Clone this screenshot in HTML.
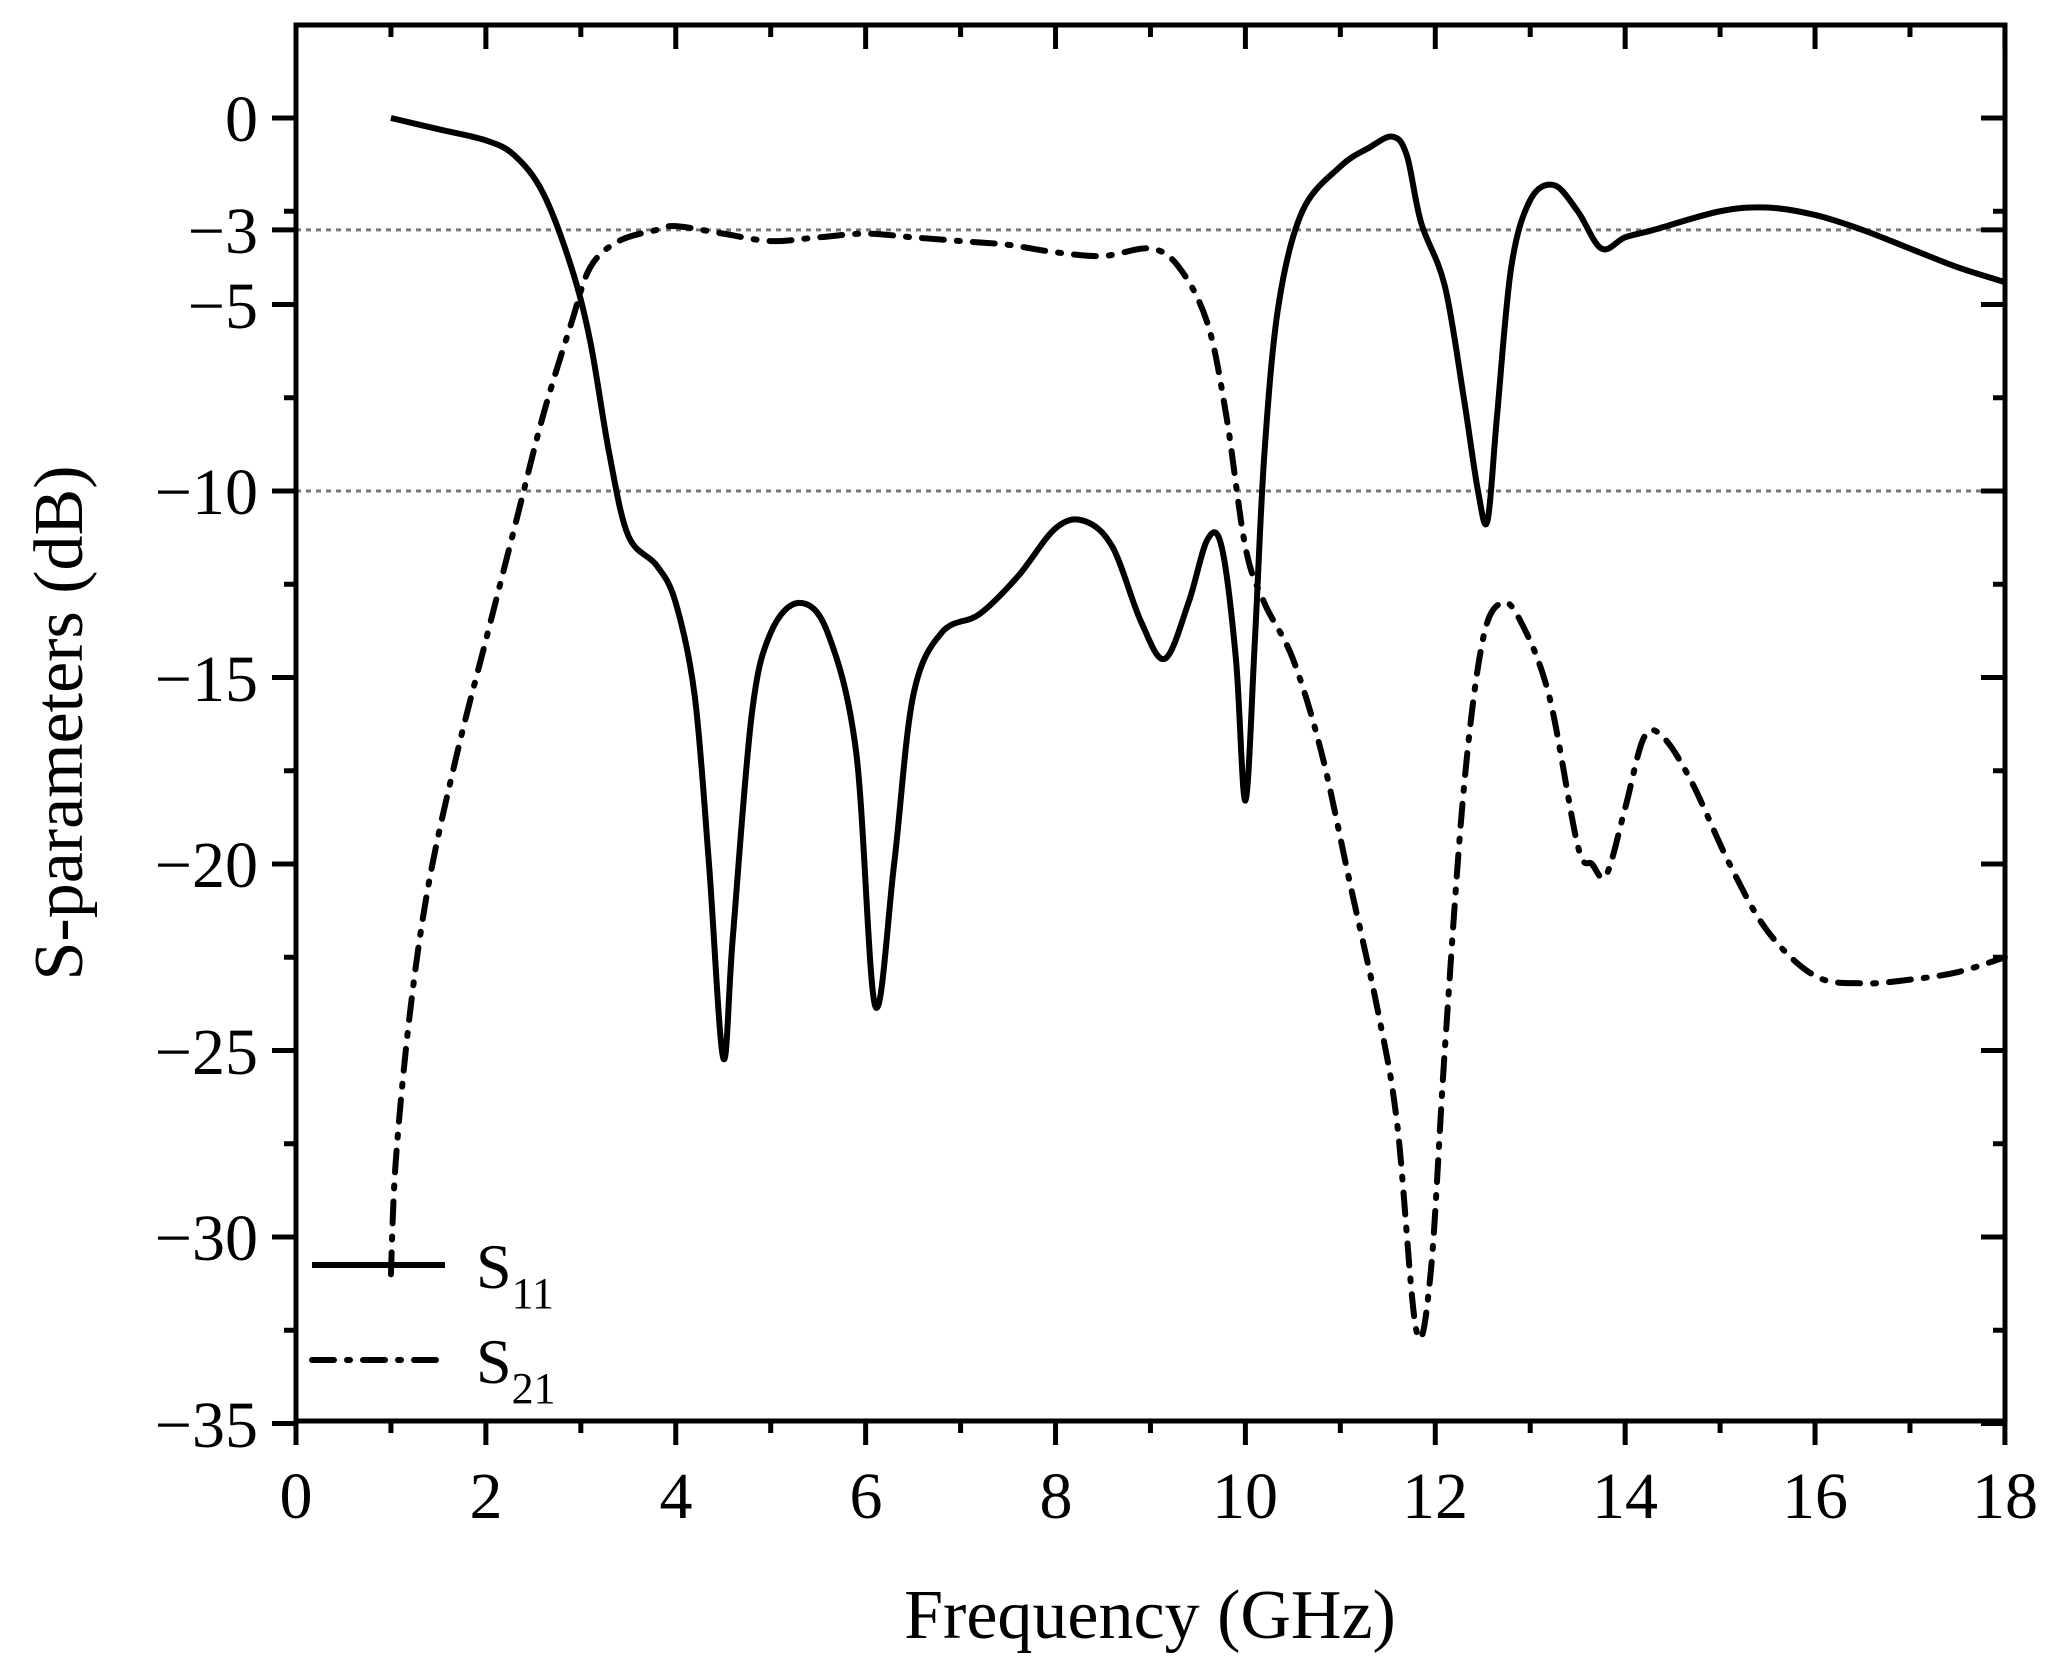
<!DOCTYPE html>
<html><head><meta charset="utf-8"><style>html,body{margin:0;padding:0;background:#fff}svg{display:block}text{font-family:"Liberation Serif",serif;fill:#000}</style></head>
<body>
<svg id="s" width="2051" height="1677" viewBox="0 0 2051 1677" xmlns="http://www.w3.org/2000/svg">
<g id="grid"></g>
<g id="curves"></g>
<rect x="296" y="25" width="1709" height="1396" fill="none" stroke="#000" stroke-width="5"/>
<g id="ticks" stroke="#000" stroke-width="5"></g>
<g font-size="66" text-anchor="end">
<text x="258" y="141">0</text>
<text x="258" y="253">−3</text>
<text x="258" y="328">−5</text>
<text x="258" y="514">−10</text>
<text x="258" y="701">−15</text>
<text x="258" y="887">−20</text>
<text x="258" y="1074">−25</text>
<text x="258" y="1260">−30</text>
<text x="258" y="1447">−35</text>
</g>
<g font-size="66" text-anchor="middle">
<text x="296" y="1518">0</text>
<text x="486" y="1518">2</text>
<text x="676" y="1518">4</text>
<text x="866" y="1518">6</text>
<text x="1056" y="1518">8</text>
<text x="1245" y="1518">10</text>
<text x="1435" y="1518">12</text>
<text x="1625" y="1518">14</text>
<text x="1815" y="1518">16</text>
<text x="2005" y="1518">18</text>
</g>
<text x="1150" y="1638" font-size="70" text-anchor="middle">Frequency (GHz)</text>
<text transform="translate(82,723) rotate(-90)" font-size="70" text-anchor="middle">S-parameters (dB)</text>
<line x1="312" y1="1265" x2="445" y2="1265" stroke="#000" stroke-width="6"/>
<line x1="312" y1="1360" x2="445" y2="1360" stroke="#000" stroke-width="6" stroke-dasharray="22,13,3,13" stroke-linecap="round"/>
<text x="476" y="1288" font-size="64">S<tspan font-size="44" dy="20">11</tspan></text>
<text x="476" y="1383" font-size="64">S<tspan font-size="44" dy="20">21</tspan></text>
</svg>
<script>
var X=function(f){return 296+f*94.94},Y=function(d){return 118-d*37.3};
var NS="http://www.w3.org/2000/svg";
function el(p,n,a){var e=document.createElementNS(NS,n);for(var k in a)e.setAttribute(k,a[k]);p.appendChild(e);return e;}
var g=document.getElementById('grid');
[-3,-10].forEach(function(d){el(g,'line',{x1:296,x2:2005,y1:Y(d),y2:Y(d),stroke:'#777','stroke-width':3,'stroke-dasharray':'5,5'});});
var t=document.getElementById('ticks');
for(var i=0;i<=18;i++){var x=X(i),L=i%2==0?24:12;
 el(t,'line',{x1:x,x2:x,y1:1421,y2:1421+L});el(t,'line',{x1:x,x2:x,y1:25,y2:25+L});}
[0,-3,-5,-10,-15,-20,-25,-30,-35].forEach(function(d){var y=Y(d);el(t,'line',{x1:296-24,x2:296,y1:y,y2:y});el(t,'line',{x1:2005-24,x2:2005,y1:y,y2:y});});
[-2.5,-7.5,-12.5,-17.5,-22.5,-27.5,-32.5].forEach(function(d){var y=Y(d);el(t,'line',{x1:296-12,x2:296,y1:y,y2:y});el(t,'line',{x1:2005-12,x2:2005,y1:y,y2:y});});
function path(pts){var p=pts.map(function(a){return [X(a[0]),Y(a[1])]});var s='M'+p[0][0]+','+p[0][1];
for(var i=0;i<p.length-1;i++){var p0=p[i-1]||p[i],p1=p[i],p2=p[i+1],p3=p[i+2]||p2;
s+='C'+(p1[0]+(p2[0]-p0[0])/6)+','+(p1[1]+(p2[1]-p0[1])/6)+' '+(p2[0]-(p3[0]-p1[0])/6)+','+(p2[1]-(p3[1]-p1[1])/6)+' '+p2[0]+','+p2[1];}return s;}
var s11=[[1,0],[1.5,-0.3],[2,-0.6],[2.3,-1],[2.6,-2],[2.9,-4],[3.1,-6],[3.3,-9],[3.5,-11.2],[3.8,-12],[4.0,-13],[4.2,-15.5],[4.35,-20],[4.5,-25.2],[4.6,-22],[4.8,-16],[5.0,-13.8],[5.3,-13],[5.6,-13.8],[5.9,-17],[6.1,-23.8],[6.3,-20],[6.5,-15.5],[6.8,-13.8],[7.2,-13.3],[7.6,-12.3],[8.0,-11],[8.3,-10.8],[8.6,-11.5],[8.9,-13.5],[9.15,-14.5],[9.4,-13],[9.6,-11.3],[9.75,-11.5],[9.9,-14.5],[10.0,-18.3],[10.1,-14],[10.2,-9],[10.35,-5],[10.6,-2.5],[11,-1.3],[11.3,-0.8],[11.55,-0.5],[11.7,-1],[11.85,-2.8],[12.1,-4.5],[12.3,-7.5],[12.45,-10],[12.55,-10.8],[12.65,-8],[12.8,-4],[13.0,-2.2],[13.25,-1.8],[13.5,-2.5],[13.75,-3.5],[14.0,-3.2],[14.3,-3],[15,-2.5],[15.5,-2.4],[16,-2.6],[16.5,-3],[17,-3.5],[17.5,-4],[18,-4.4]];
var s21=[[1,-31],[1.05,-28],[1.2,-24],[1.4,-20.5],[1.7,-17],[2.0,-14],[2.3,-11],[2.6,-8],[2.9,-5.5],[3.1,-4],[3.4,-3.3],[3.8,-3],[4.0,-2.9],[4.5,-3.1],[5,-3.3],[5.5,-3.2],[6,-3.1],[6.5,-3.2],[7,-3.3],[7.5,-3.4],[8,-3.6],[8.5,-3.7],[9,-3.5],[9.3,-4],[9.6,-5.5],[9.8,-8],[10,-11.5],[10.2,-13],[10.5,-14.5],[10.8,-17],[11.1,-20.5],[11.4,-24],[11.6,-27],[11.8,-32.5],[11.95,-31],[12.1,-25],[12.3,-18],[12.5,-14],[12.7,-13],[12.9,-13.5],[13.2,-15.5],[13.5,-19.5],[13.65,-20],[13.8,-20.3],[14.0,-18.5],[14.2,-16.6],[14.4,-16.6],[14.7,-17.8],[15.1,-20],[15.5,-21.8],[16,-23],[16.5,-23.2],[17,-23.1],[17.5,-22.9],[18,-22.5]];
var c=document.getElementById('curves');
el(c,'path',{d:path(s11),fill:'none',stroke:'#000','stroke-width':6,'stroke-linejoin':'round'});
el(c,'path',{d:path(s21),fill:'none',stroke:'#000','stroke-width':6,'stroke-dasharray':'22,13,3,13','stroke-linecap':'round'});
</script>
</body></html>
